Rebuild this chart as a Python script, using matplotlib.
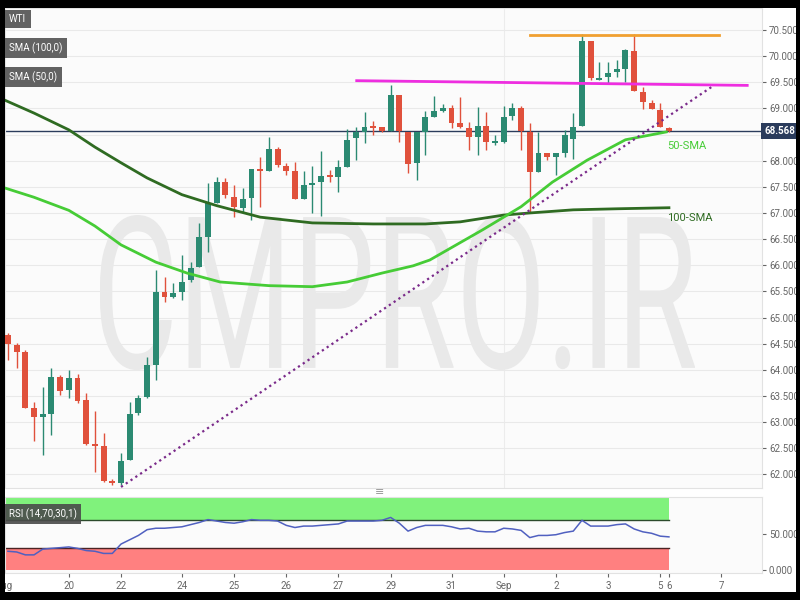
import numpy as np
import matplotlib
matplotlib.use('Agg')
import matplotlib.pyplot as plt
from matplotlib.patches import Rectangle, PathPatch
from matplotlib.textpath import TextPath
from matplotlib.font_manager import FontProperties
from matplotlib.transforms import Affine2D, blended_transform_factory

plt.rcParams['font.family'] = ['Liberation Sans Narrow', 'Roboto', 'DejaVu Sans']

# 4h candles, WTI, Aug 19 - Sep 6
opens = [64.67, 64.48, 64.34, 63.27, 63.10, 63.16, 63.87, 63.62, 63.85, 63.43,
         62.58, 62.55, 61.88, 61.84, 62.28, 63.18, 63.48, 64.09, 65.49, 65.39,
         65.49, 65.72, 65.97, 66.54, 67.19, 67.59, 67.31, 67.10, 67.29, 67.84,
         67.80, 68.22, 67.90, 67.80, 67.27, 67.54, 67.59, 67.73, 67.69, 67.88,
         68.44, 68.55, 68.65, 68.65, 68.57, 69.26, 68.55, 67.96, 68.55, 68.84,
         68.95, 69.01, 68.72, 68.63, 68.45, 68.66, 68.34, 68.36, 68.86, 69.01,
         68.55, 67.79, 68.15, 68.07, 68.15, 68.42, 68.66, 70.29, 69.56, 69.60,
         69.70, 69.75, 70.10, 69.31, 69.10, 68.97, 68.63]
closes = [64.50, 64.34, 63.27, 63.10, 63.16, 63.87, 63.60, 63.85, 63.41, 62.58,
          62.55, 61.88, 61.84, 62.26, 63.16, 63.46, 64.09, 65.49, 65.39, 65.47,
          65.68, 65.95, 66.54, 67.19, 67.59, 67.35, 67.12, 67.27, 67.84, 67.80,
          68.22, 67.92, 67.80, 67.27, 67.54, 67.57, 67.71, 67.69, 67.88, 68.40,
          68.55, 68.65, 68.63, 68.57, 69.26, 68.57, 67.94, 68.55, 68.84, 68.95,
          69.01, 68.72, 68.65, 68.45, 68.66, 68.36, 68.38, 68.84, 69.01, 68.57,
          67.79, 68.15, 68.07, 68.15, 68.49, 68.65, 70.29, 69.58, 69.58, 69.68,
          69.75, 70.12, 69.33, 69.12, 68.99, 68.65, 68.57]
highs = [64.71, 64.52, 64.38, 63.39, 63.67, 64.04, 63.90, 64.00, 63.92, 63.56,
         63.21, 62.79, 61.91, 62.41, 63.39, 63.52, 64.25, 65.91, 65.78, 65.66,
         66.20, 66.06, 66.81, 67.57, 67.69, 67.67, 67.54, 67.48, 67.84, 68.07,
         68.45, 68.26, 67.96, 67.98, 67.80, 67.90, 68.19, 67.82, 68.01, 68.61,
         68.65, 68.93, 68.76, 68.65, 69.45, 69.26, 68.55, 68.55, 68.95, 69.24,
         69.09, 69.07, 69.22, 68.74, 69.03, 68.93, 68.49, 69.05, 69.10, 69.05,
         68.72, 68.55, 68.15, 68.15, 68.59, 68.91, 70.42, 70.29, 69.89, 69.89,
         69.93, 70.14, 70.42, 69.41, 69.16, 69.10, 68.65]
lows = [64.19, 64.04, 63.27, 62.64, 62.37, 62.76, 63.52, 63.46, 63.37, 62.56,
        62.05, 61.86, 61.80, 61.80, 62.28, 63.14, 63.46, 63.81, 65.30, 65.38,
        65.34, 65.68, 65.97, 66.25, 67.19, 67.29, 66.92, 67.02, 66.87, 67.12,
        67.80, 67.88, 67.73, 67.27, 67.27, 67.00, 66.94, 67.59, 67.40, 67.88,
        68.01, 68.34, 68.49, 68.55, 68.57, 68.36, 67.77, 67.63, 68.11, 68.84,
        68.93, 68.63, 68.63, 68.21, 68.11, 68.21, 68.30, 68.34, 68.78, 68.21,
        67.00, 67.79, 68.01, 67.73, 68.07, 68.03, 68.66, 69.54, 69.54, 69.49,
        69.60, 69.51, 69.33, 68.99, 68.99, 68.65, 68.55]

sma100_x = [-0.4, 3, 7, 10, 13, 16, 20, 24, 29, 35, 42, 48, 52, 57, 60, 65, 70, 76]
sma100_y = [69.16, 68.91, 68.59, 68.26, 67.96, 67.67, 67.35, 67.14, 66.92, 66.81,
            66.79, 66.79, 66.83, 66.96, 67.00, 67.06, 67.08, 67.10]
sma50_x = [-0.4, 3, 7, 10, 13, 17, 20.6, 24.4, 30, 35, 39, 43, 46.6, 48.5, 54.6,
           59, 62.6, 66.6, 71, 75.7]
sma50_y = [67.48, 67.30, 67.05, 66.75, 66.39, 66.06, 65.85, 65.68, 65.61, 65.59,
           65.68, 65.85, 65.99, 66.10, 66.68, 67.12, 67.59, 68.01, 68.40, 68.55]

rsi = [26, 25, 21, 21, 29, 30, 31, 32, 30, 27, 26, 23, 23, 36, 42, 48, 56, 58, 58, 59,
       60, 63, 66, 70, 68, 66, 65, 67, 70, 69, 69, 68, 62, 59, 61, 61, 62, 63, 64, 68,
       68, 68, 68, 69, 73, 65, 54, 59, 62, 62, 62, 60, 57, 58, 54, 53, 53, 58, 57, 55,
       45, 48, 48, 49, 52, 54, 69, 61, 61, 61, 63, 64, 57, 53, 51, 47, 46]

last_price = 68.568
trend_x = [13, 80.9]
trend_y = [61.76, 69.41]
res_magenta_x = [40.1, 85.0]
res_magenta_y = [69.53, 69.44]
res_orange_x = [60, 81.8]
res_orange_y = [70.40, 70.40]

tick_pos = [7, 13, 20, 26, 32, 38, 44, 51, 57, 63, 69, 75, 76, 82]
tick_lab = ['20', '22', '24', '25', '26', '27', '29', '31', 'Sep', '2', '3', '5', '6', '7']

W, H = 800, 600
def fx(px):
    return px / W
def fy(py):
    return 1 - py / H

fig = plt.figure(figsize=(8, 6), dpi=100, facecolor='black')
fig.add_artist(Rectangle((fx(5), fy(592)), fx(796) - fx(5), fy(8) - fy(592),
                         transform=fig.transFigure, facecolor='white', edgecolor='none', zorder=-10))

ax = fig.add_axes([fx(5), fy(488), fx(762) - fx(5), fy(8) - fy(488)])
ax2 = fig.add_axes([fx(5), fy(573), fx(762) - fx(5), fy(497) - fy(573)], sharex=ax)

xlim = (-0.34, 86.7)
ax.set_xlim(*xlim)
ax.set_ylim(61.74, 70.92)
ax.set_facecolor('#fbfbfb')
for s in ax.spines.values():
    s.set_color('#e2e2e2')
ax.yaxis.tick_right()
yt = np.arange(62.0, 70.51, 0.5)
ax.set_yticks(yt)
# the 68.500 label sits under the last-price tag
ax.set_yticklabels(['' if abs(v - 68.5) < 0.01 else '%.3f' % v for v in yt])
ax.tick_params(axis='y', colors='#666666', labelsize=7, length=3, pad=2)
ax.tick_params(axis='x', length=0, labelbottom=False)
ax.grid(axis='y', color='#e9e9e9', lw=0.8)
ax.axvline(57, color='#ececec', lw=0.8, zorder=0)
ax.set_axisbelow(True)

# watermark
tp = TextPath((0, 0), 'CMPRO.IR', size=1, prop=FontProperties(family='Roboto'))
ext = tp.get_extents()
wx0, wx1, wy0, wy1 = fx(100), fx(695), fy(370), fy(215)
tr = Affine2D().translate(-ext.x0, -ext.y0).scale((wx1 - wx0) / ext.width, (wy1 - wy0) / ext.height).translate(wx0, wy0)
ax.add_patch(PathPatch(tr.transform_path(tp), transform=fig.transFigure,
                       facecolor='#e9e9e9', edgecolor='none', zorder=0.5))

# candles
up_c, dn_c = '#2b8a72', '#e0513c'
for i in range(len(opens)):
    o, c = opens[i], closes[i]
    col = up_c if c >= o else dn_c
    ax.vlines(i, lows[i], highs[i], color=col, lw=1, zorder=3)
    h = max(abs(c - o), 0.035)
    ax.bar(i, h, bottom=min(o, c) - (h - abs(c - o)) / 2, width=0.68, color=col, zorder=3)

ax.plot(sma100_x, sma100_y, color='#2f6b22', lw=2, zorder=4)
ax.plot(sma50_x, sma50_y, color='#46cc36', lw=2, zorder=4)
ax.plot(trend_x, trend_y, color='#7a2a8a', lw=1.6, ls=(0, (1, 1.6)), zorder=5)
ax.plot(res_magenta_x, res_magenta_y, color='#ee2ee0', lw=2, zorder=5)
ax.plot(res_orange_x, res_orange_y, color='#f0a030', lw=2, zorder=5)
ax.axhline(last_price, color='#2b3c5c', lw=1, zorder=2)

ax.text(75.8, 68.28, '50-SMA', color='#46cc36', fontsize=8, va='center', zorder=6)
ax.text(75.8, 66.90, '100-SMA', color='#2f6b22', fontsize=8, va='center', zorder=6)

box = dict(boxstyle='square,pad=0.45', facecolor='#5a5a5a', edgecolor='none', alpha=0.95)
ax.text(fx(9), fy(19), 'WTI', transform=fig.transFigure, color='white', fontsize=7, va='center', bbox=box, zorder=7)
ax.text(fx(9), fy(48), 'SMA (100,0)', transform=fig.transFigure, color='white', fontsize=7, va='center', bbox=box, zorder=7)
ax.text(fx(9), fy(77), 'SMA (50,0)', transform=fig.transFigure, color='white', fontsize=7, va='center', bbox=box, zorder=7)

tb = blended_transform_factory(ax.transAxes, ax.transData)
ax.text(1.003, last_price, '%.3f' % last_price, transform=tb, color='white', fontsize=7,
        fontweight='bold', va='center', ha='left', clip_on=False, zorder=8,
        bbox=dict(boxstyle='square,pad=0.3', facecolor='#2b3c5c', edgecolor='none'))

# RSI panel
ax2.set_ylim(-4.2, 101.4)
ax2.set_facecolor('#fbfbfb')
for s in ax2.spines.values():
    s.set_color('#e2e2e2')
ax2.fill_between([xlim[0], 76], 70, 100, color='#80f27c', lw=0, zorder=1)
ax2.fill_between([xlim[0], 76], 0, 30, color='#ff8080', lw=0, zorder=1)
ax2.plot([xlim[0], 76], [70, 70], color='#2c4a2c', lw=1, zorder=2)
ax2.plot([xlim[0], 76], [30, 30], color='#4a2424', lw=1, zorder=2)
ax2.plot(range(len(rsi)), rsi, color='#5060c0', lw=1.1, zorder=3)
ax2.yaxis.tick_right()
ax2.set_yticks([0, 50])
ax2.set_yticklabels(['0.000', '50.000'])
ax2.tick_params(axis='y', colors='#666666', labelsize=7, length=3, pad=2)
ax2.set_xticks(tick_pos)
ax2.set_xticklabels(tick_lab)
ax2.tick_params(axis='x', colors='#666666', labelsize=7, length=3, pad=3)
ax2.text(fx(9), fy(514), 'RSI (14,70,30,1)', transform=fig.transFigure, color='white', fontsize=7,
         va='center', zorder=7, bbox=dict(boxstyle='square,pad=0.45', facecolor='#4a4a4a', edgecolor='none', alpha=0.9))

# month label, cut by the left frame like in the source
tb2 = blended_transform_factory(ax2.transData, ax2.transAxes)
ax2.text(-0.4, -0.105, 'Aug', transform=tb2, color='#666666', fontsize=7, ha='center', va='top', clip_on=False)

fig.text(fx(380), fy(492), '≡', color='#999999', fontsize=8, ha='center', va='center', family='DejaVu Sans')

# black frame over everything at the edges
for r in [(0, 0, 5, 600), (0, 0, 800, 8), (0, 592, 800, 8), (796, 0, 4, 600)]:
    fig.add_artist(Rectangle((fx(r[0]), fy(r[1] + r[3])), fx(r[2]), r[3] / H,
                             transform=fig.transFigure, facecolor='black', edgecolor='none', zorder=20))

fig.savefig('out.png', dpi=100, facecolor='black')
